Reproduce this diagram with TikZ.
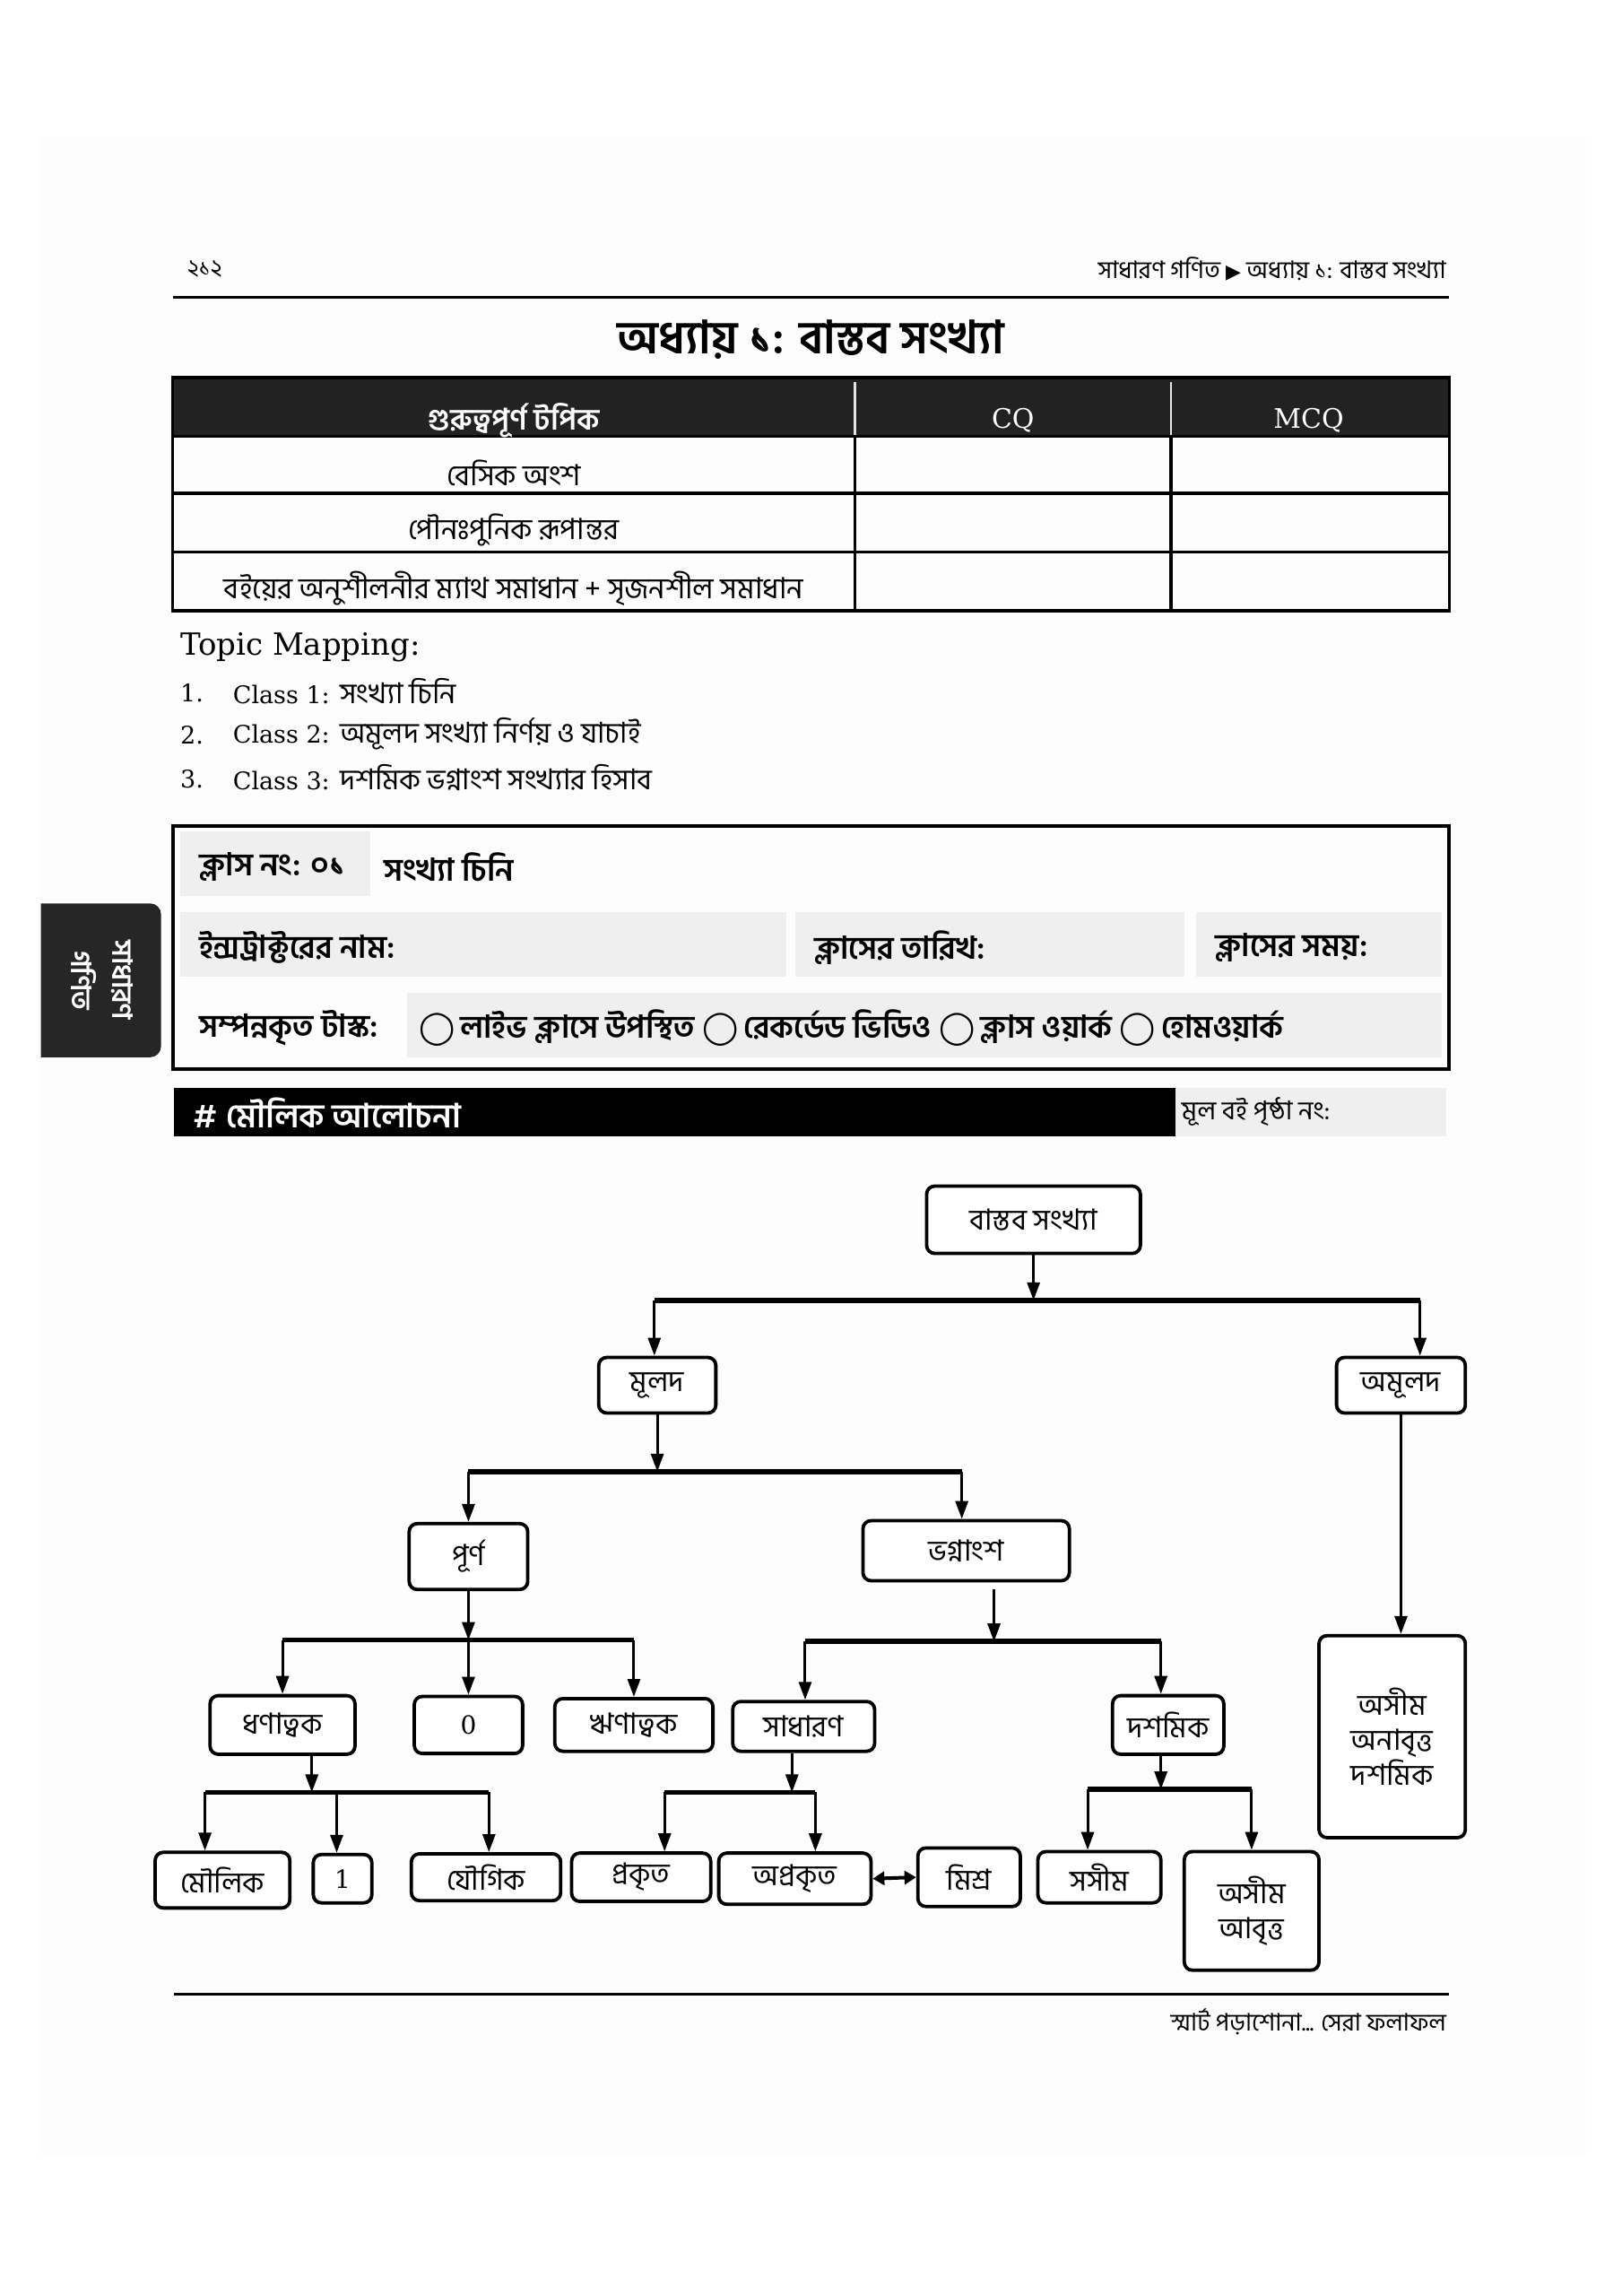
\documentclass[tikz,border=0pt]{standalone}
\usepackage{fontspec}
\usetikzlibrary{arrows.meta}
\setmainfont{DejaVu Serif}
\newfontfamily\bn[Script=Bengali]{Hind Siliguri}
\newfontfamily\sym{DejaVu Sans}
\newcommand\fsz[2]{\fontsize{#1}{#2}\selectfont}
\definecolor{hdrdark}{HTML}{222222}
\definecolor{cellgray}{HTML}{EFEFEF}
\definecolor{tabdark}{HTML}{262626}
\definecolor{pagebg}{HTML}{FDFDFD}
\tikzset{
  sz/.style 2 args={minimum width=#1*1.6327pt, minimum height=#2*1.6327pt},
  bx/.style={draw, line width=3.8pt, rounded corners=9pt, fill=white, inner sep=0pt, align=center, font=\bn\fsz{32.5}{39}},
  ar/.style={line width=3pt, -{Triangle[length=20pt,width=14pt]}},
  bar/.style={line width=5.5pt},
  tbl/.style={line width=3.5pt},
  cell/.style={fill=cellgray},
  bt/.style={anchor=west, font=\bn\bfseries\fsz{35}{40}},
  circ/.style={},
}
\newcommand\ring{{\sym\mdseries\fsz{36}{40}◯}}
\begin{document}
\begin{tikzpicture}[x=1.6327pt,y=-1.6327pt]
\useasboundingbox (0,0) rectangle (1108,1568);
\fill[white] (0,0) rectangle (1108,1568);
\fill[pagebg] (28.2,93.7) rectangle (1083.5,1472.5);

% header
\node[anchor=west, font=\bn\fsz{26}{30}] (pg) at (126,184) {২১২};
\node[anchor=east, font=\bn\fsz{27}{30}] (hdr) at (990,184) {সাধারণ গণিত {\sym\fsz{22}{24}▶} অধ্যায় ১: বাস্তব সংখ্যা};
\draw[line width=3.5pt] (118,203) -- (990,203);
\node[font=\bn\bfseries\fsz{51}{58}] (title) at (554,232) {অধ্যায় ১: বাস্তব সংখ্যা};

% table
\fill[hdrdark] (118,258) rectangle (990,298);
\draw[tbl] (118,258) rectangle (990,417);
\draw[tbl] (118,298) -- (990,298);
\draw[tbl] (118,337) -- (990,337);
\draw[tbl] (118,377) -- (990,377);
\draw[tbl] (584,298) -- (584,417);
\draw[tbl] (800,298) -- (800,417);
\draw[white!90!black, line width=2.2pt] (584,261) -- (584,297);
\draw[white!90!black, line width=2.2pt] (800,261) -- (800,297);
\node[white, font=\bn\bfseries\fsz{33}{38}] (th1) at (351,287) {গুরুত্বপূর্ণ টপিক};
\node[white, font=\fsz{30}{36}] (th2) at (692,287) {CQ};
\node[white, font=\fsz{30}{36}] (th3) at (894,287) {MCQ};
\node[font=\bn\fsz{32.5}{38}] (r1) at (351,323) {বেসিক অংশ};
\node[font=\bn\fsz{32.5}{38}] (r2) at (351,362) {পৌনঃপুনিক রূপান্তর};
\node[font=\bn\fsz{32.5}{38}] (r3) at (351,402) {বইয়ের অনুশীলনীর ম্যাথ সমাধান + সৃজনশীল সমাধান};

% topic mapping
\node[anchor=west, font=\fsz{34}{40}] (tm) at (121,442) {Topic Mapping:};
\node[anchor=west, font=\fsz{27}{32}] (n1) at (121,473) {1.};
\node[anchor=west, font=\fsz{27}{32}] (n2) at (121,502) {2.};
\node[anchor=west, font=\fsz{27}{32}] (n3) at (121,532) {3.};
\node[anchor=west, font=\fsz{27}{32}] (c1) at (157,472) {Class 1: {\bn\fsz{32}{38}সংখ্যা চিনি}};
\node[anchor=west, font=\fsz{27}{32}] (c2) at (157,501) {Class 2: {\bn\fsz{32}{38}অমূলদ সংখ্যা নির্ণয় ও যাচাই}};
\node[anchor=west, font=\fsz{27}{32}] (c3) at (157,531) {Class 3: {\bn\fsz{32}{38}দশমিক ভগ্নাংশ সংখ্যার হিসাব}};

% class box
\fill[cell] (123,568) rectangle (253,612);
\fill[cell] (123,623) rectangle (537,667);
\fill[cell] (543,623) rectangle (809,667);
\fill[cell] (817,623) rectangle (985,667);
\fill[cell] (278,678) rectangle (985,722);
\draw[line width=4pt] (118,564) rectangle (990,730);
\node[bt] (cn) at (134,592) {ক্লাস নং: ০১};
\node[bt] (cname) at (260,592) {সংখ্যা চিনি};
\node[bt] (ins) at (134,647) {ইন্সট্রাক্টরের নাম:};
\node[bt] (cdate) at (554,647) {ক্লাসের তারিখ:};
\node[bt] (ctime) at (828,647) {ক্লাসের সময়:};
\node[bt] (task) at (134,702) {সম্পন্নকৃত টাস্ক:};
\node[bt] (opts) at (284,702) {\ring\,লাইভ ক্লাসে উপস্থিত \ring\,রেকর্ডেড ভিডিও \ring\,ক্লাস ওয়ার্ক \ring\,হোমওয়ার্ক};

% side tab
\fill[tabdark, rounded corners=12] (28,617) -- (110,617) -- (110,722) -- (28,722);
\node[rotate=-90, white, align=center, font=\bn\bfseries\fsz{31}{46}] (tab) at (70,669.5) {সাধারণ\\গণিত};

% section bar
\fill[black] (119,743) rectangle (803,776);
\fill[cell] (803,743) rectangle (988,776);
\node[anchor=west, white, font=\bn\bfseries\fsz{37}{42}] (sec) at (130,760) {\# মৌলিক আলোচনা};
\node[anchor=west, font=\bn\fsz{29}{32}] (pgno) at (805,759) {মূল বই পৃষ্ঠা নং:};

% diagram nodes
\node[bx, sz={146}{46}] (bs) at (706,833) {বাস্তব সংখ্যা};
\node[bx, sz={80}{38}] (mulod) at (449,946) {মূলদ};
\node[bx, sz={88}{38}] (amulod) at (957,946) {অমূলদ};
\node[bx, sz={81}{45}] (purno) at (320,1063) {পূর্ণ};
\node[bx, sz={141}{41}] (vog) at (660,1059) {ভগ্নাংশ};
\node[bx, sz={100}{138}] (ad) at (951,1186) {অসীম\\অনাবৃত্ত\\দশমিক};
\node[bx, sz={99}{40}] (dhon) at (193,1178) {ধণাত্বক};
\node[bx, sz={74}{39}, font=\fsz{28}{34}] (zero) at (320,1178) {0};
\node[bx, sz={108}{36}] (rin) at (433,1178) {ঋণাত্বক};
\node[bx, sz={97}{34}] (sadh) at (549,1179) {সাধারণ};
\node[bx, sz={76}{40}] (dosh) at (798,1178) {দশমিক};
\node[bx, sz={92}{38}] (moulik) at (152,1284) {মৌলিক};
\node[bx, sz={40}{33}, font=\fsz{28}{34}] (one) at (234,1283) {1};
\node[bx, sz={102}{32}] (jougik) at (332,1282) {যৌগিক};
\node[bx, sz={95}{33}] (prok) at (438,1282) {প্রকৃত};
\node[bx, sz={104}{35}] (oprok) at (543,1283) {অপ্রকৃত};
\node[bx, sz={70}{40}] (mishro) at (662,1282) {মিশ্র};
\node[bx, sz={84}{35}] (sosim) at (751,1282) {সসীম};
\node[bx, sz={92}{81}] (aa) at (855,1305) {অসীম\\আবৃত্ত};

% connectors
\coordinate (b1) at (706,888); \coordinate (b1l) at (447,888); \coordinate (b1r) at (970,888);
\draw[ar] (bs.south) -- (b1);
\draw[bar] (b1l) -- (b1r);
\draw[ar] (b1l) -- (b1l |- mulod.north);
\draw[ar] (b1r) -- (b1r |- amulod.north);
\draw[ar] (amulod.south) -- (amulod.south |- ad.north);

\coordinate (b2) at (449,1005); \coordinate (b2l) at (320,1005); \coordinate (b2r) at (657,1005);
\draw[ar] (mulod.south) -- (b2);
\draw[bar] (b2l) -- (b2r);
\draw[ar] (b2l) -- (b2l |- purno.north);
\draw[ar] (b2r) -- (b2r |- vog.north);

\coordinate (b3) at (320,1120); \coordinate (b3l) at (193,1120); \coordinate (b3r) at (433,1120);
\draw[ar] (purno.south) -- (b3);
\draw[bar] (b3l) -- (b3r);
\draw[ar] (b3l) -- (b3l |- dhon.north);
\draw[ar] (b3) -- (zero.north);
\draw[ar] (b3r) -- (b3r |- rin.north);

\coordinate (b4) at (679,1121); \coordinate (b4l) at (550,1121); \coordinate (b4r) at (793,1121);
\draw[ar] ([yshift=-8pt]vog.south -| b4) -- (b4);
\draw[bar] (b4l) -- (b4r);
\draw[ar] (b4l) -- (b4l |- sadh.north);
\draw[ar] (b4r) -- (b4r |- dosh.north);

\coordinate (b5) at (213,1224); \coordinate (b5l) at (140,1224); \coordinate (b5m) at (230,1224); \coordinate (b5r) at (334,1224);
\draw[ar] (dhon.south -| b5) -- (b5);
\draw[bar] (b5l) -- (b5r);
\draw[ar] (b5l) -- (b5l |- moulik.north);
\draw[ar] (b5m) -- (b5m |- one.north);
\draw[ar] (b5r) -- (b5r |- jougik.north);

\coordinate (b6) at (541,1224); \coordinate (b6l) at (454,1224); \coordinate (b6r) at (557,1224);
\draw[ar] (sadh.south -| b6) -- (b6);
\draw[bar] (b6l) -- (b6r);
\draw[ar] (b6l) -- (b6l |- prok.north);
\draw[ar] (b6r) -- (b6r |- oprok.north);

\coordinate (b7) at (793,1222); \coordinate (b7l) at (743,1222); \coordinate (b7r) at (855,1222);
\draw[ar] (dosh.south -| b7) -- (b7);
\draw[bar] (b7l) -- (b7r);
\draw[ar] (b7l) -- (b7l |- sosim.north);
\draw[ar] (b7r) -- (b7r |- aa.north);

\draw[line width=4pt, {Triangle[length=13pt,width=15pt]}-{Triangle[length=13pt,width=15pt]}] (oprok.east) -- (mishro.west);

% footer
\draw[line width=3pt] (119,1362) -- (990,1362);
\node[anchor=east, font=\bn\fsz{27}{30}] (foot) at (990,1381) {স্মার্ট পড়াশোনা... সেরা ফলাফল};
\end{tikzpicture}
\end{document}
